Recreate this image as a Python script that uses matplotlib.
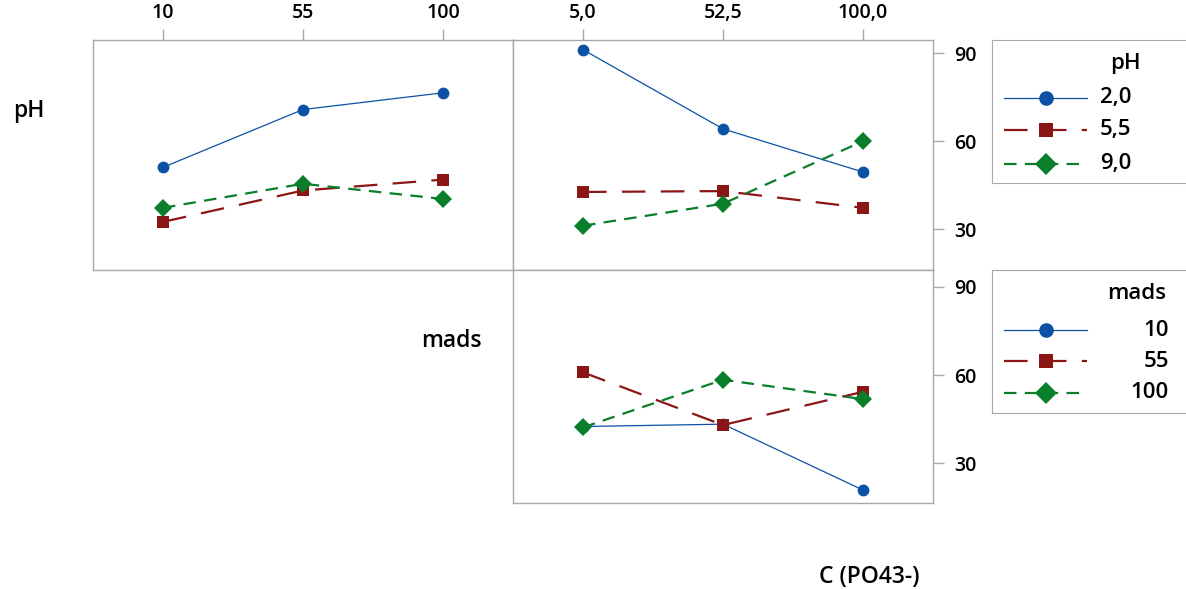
import matplotlib
matplotlib.use('Agg')
import matplotlib.pyplot as plt

plt.rcParams['font.family'] = ['Open Sans', 'DejaVu Sans']
plt.rcParams['lines.scale_dashes'] = False

# factor levels
ph_levels = ['2,0', '5,5', '9,0']
mads_levels = ['10', '55', '100']
conc_levels = ['5,0', '52,5', '100,0']

# means: pH lines vs mads (top left)
ph20_vs_mads = [51.1, 70.8, 76.5]
ph55_vs_mads = [32.5, 43.2, 46.9]
ph90_vs_mads = [37.3, 45.5, 40.3]

# means: pH lines vs C(PO43-) (top right)
ph20_vs_conc = [91.2, 64.2, 49.5]
ph55_vs_conc = [42.7, 43.0, 37.3]
ph90_vs_conc = [31.2, 38.7, 60.0]

# means: mads lines vs C(PO43-) (bottom right)
mads10_vs_conc = [42.5, 43.3, 20.9]
mads55_vs_conc = [60.9, 43.0, 54.3]
mads100_vs_conc = [42.2, 58.4, 51.8]

y_ticks = [30, 60, 90]

W, H = 1186, 589
colors = ['#0B52A6', '#8C1515', '#0A7F2B']
markers = ['o', 's', 'D']
msizes = [8.5, 8.5, 9]
lws = [0.9, 1.6, 1.6]
dash_styles = [None, (17, 11), (9, 6)]
frame_col = '#A8A8A8'


def px_box(x0, y0, x1, y1):
    return [x0 / W, 1 - y1 / H, (x1 - x0) / W, (y1 - y0) / H]


def style_frame(ax):
    for s in ax.spines.values():
        s.set_color(frame_col)
        s.set_linewidth(1.0)
    ax.tick_params(colors=frame_col, labelcolor='black', labelsize=14,
                   length=8, width=1)


def draw_panel(ax, series, ylim):
    for vals, c, m, ms, lw, d in zip(series, colors, markers, msizes, lws, dash_styles):
        line, = ax.plot(range(len(vals)), vals, color=c, marker=m, ms=ms, lw=lw,
                        markeredgewidth=0)
        if d:
            line.set_dashes(d)
    ax.set_xlim(-0.5, 2.5)
    ax.set_ylim(*ylim)
    style_frame(ax)


fig = plt.figure(figsize=(W / 100, H / 100), dpi=100)

# top left: pH vs mads
ax1 = fig.add_axes(px_box(93, 40, 513, 270))
draw_panel(ax1, [ph20_vs_mads, ph55_vs_mads, ph90_vs_mads], (16.1, 94.5))
ax1.xaxis.tick_top()
ax1.set_xticks(range(3), mads_levels)
ax1.set_yticks([])

# top right: pH vs C
ax2 = fig.add_axes(px_box(513, 40, 933, 270))
draw_panel(ax2, [ph20_vs_conc, ph55_vs_conc, ph90_vs_conc], (16.1, 94.5))
ax2.xaxis.tick_top()
ax2.set_xticks(range(3), conc_levels)
ax2.yaxis.tick_right()
ax2.set_yticks(y_ticks)

# bottom right: mads vs C
ax3 = fig.add_axes(px_box(513, 270, 933, 503))
draw_panel(ax3, [mads10_vs_conc, mads55_vs_conc, mads100_vs_conc], (16.5, 95.7))
ax3.set_xticks([])
ax3.yaxis.tick_right()
ax3.set_yticks(y_ticks)

for ax in (ax1, ax2):
    ax.tick_params(axis='x', pad=4)
for ax in (ax2, ax3):
    ax.tick_params(axis='y', pad=7)
for ax in (ax1, ax2, ax3):
    for t in ax.get_xticklabels() + ax.get_yticklabels():
        t.set_fontweight('semibold')

# factor names
lab_kw = dict(ha='center', va='center', fontsize=16.5, fontweight='semibold')
fig.text(29 / W, 1 - 111 / H, 'pH', **lab_kw)
fig.text(451 / W, 1 - 341 / H, 'mads', **lab_kw)
fig.text(869 / W, 1 - 577 / H, 'C (PO43-)', **lab_kw)


# legends drawn in their own boxes (pixel coords)
def draw_legend(box, title, title_x, title_y, labels, rows, label_x, ha):
    x0, y0, x1, y1 = box
    lax = fig.add_axes(px_box(x0, y0, x1, y1))
    lax.set_xlim(x0, x1)
    lax.set_ylim(y1, y0)
    lax.set_xticks([])
    lax.set_yticks([])
    for s in lax.spines.values():
        s.set_color(frame_col)
    lax.spines['right'].set_visible(False)
    lax.text(title_x, title_y, title, ha='center', va='center', fontsize=16,
             fontweight='semibold')
    for lab, ry, c, m, ms, lw, d in zip(labels, rows, colors, markers, msizes, lws, dash_styles):
        ln, = lax.plot([x0 + 12, x0 + 95], [ry, ry], color=c, lw=lw)
        if d:
            ln.set_dashes(d)
        lax.plot([x0 + 54], [ry], color=c, marker=m, ms=ms + 2, markeredgewidth=0)
        lax.text(label_x, ry, lab, ha=ha, va='center', fontsize=16,
                 fontweight='semibold')


draw_legend((992, 40, 1186, 183), 'pH', 1125, 63, ph_levels, [98, 130, 164], 1100, 'left')
draw_legend((992, 270, 1186, 413), 'mads', 1137, 293, mads_levels, [330, 361, 393], 1169, 'right')

fig.savefig('out.png', dpi=100, facecolor='white')
